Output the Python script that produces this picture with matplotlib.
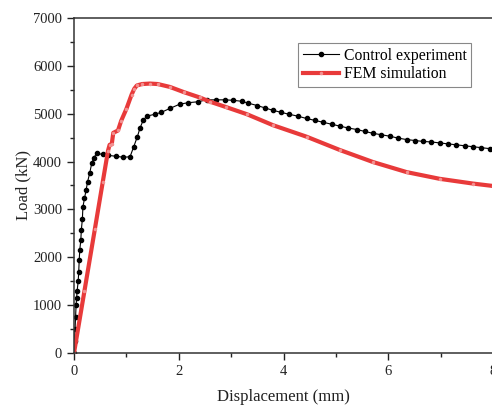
import matplotlib
matplotlib.use('Agg')
import matplotlib.pyplot as plt
from matplotlib.ticker import MultipleLocator

plt.rcParams['font.family'] = ['Liberation Serif', 'DejaVu Serif']

# control experiment (black, with markers)
exp_x = [0, 0.01, 0.02, 0.03, 0.04, 0.05, 0.06, 0.08, 0.09, 0.10, 0.11, 0.13, 0.14, 0.16,
         0.17, 0.20, 0.23, 0.26, 0.30, 0.34, 0.38, 0.43, 0.55, 0.65, 0.81, 0.94, 1.07,
         1.14, 1.21, 1.26, 1.32, 1.39, 1.55, 1.67, 1.83, 2.02, 2.18, 2.37, 2.53, 2.72,
         2.88, 3.04, 3.20, 3.33, 3.50, 3.65, 3.80, 3.95, 4.10, 4.27, 4.44, 4.60, 4.76,
         4.92, 5.08, 5.24, 5.40, 5.55, 5.71, 5.87, 6.03, 6.19, 6.35, 6.51, 6.67, 6.82,
         6.98, 7.14, 7.30, 7.46, 7.62, 7.78, 7.94, 8.0]
exp_y = [0, 250, 500, 750, 1000, 1150, 1300, 1500, 1700, 1950, 2150, 2360, 2570, 2800,
         3050, 3230, 3400, 3580, 3760, 3970, 4080, 4170, 4150, 4130, 4110, 4090, 4100,
         4310, 4520, 4700, 4860, 4950, 4990, 5030, 5110, 5200, 5230, 5250, 5290, 5290,
         5290, 5280, 5260, 5220, 5170, 5120, 5070, 5030, 4990, 4950, 4900, 4860, 4820,
         4780, 4740, 4700, 4670, 4630, 4590, 4560, 4530, 4490, 4460, 4440, 4420, 4410,
         4390, 4370, 4350, 4330, 4310, 4290, 4270, 4260]

# FEM simulation (red)
fem_x = [0, 0.2, 0.4, 0.55, 0.65, 0.68, 0.72, 0.75, 0.84, 0.9, 1.0, 1.1, 1.15, 1.2, 1.3,
         1.45, 1.6, 1.83, 2.1, 2.4, 2.6, 2.9, 3.3, 3.8, 4.44, 5.08, 5.71, 6.35, 6.98,
         7.62, 8.0]
fem_y = [0, 1300, 2600, 3580, 4230, 4350, 4360, 4600, 4650, 4850, 5100, 5400, 5520, 5590,
         5620, 5630, 5620, 5560, 5450, 5340, 5250, 5140, 4990, 4760, 4520, 4240, 3990,
         3780, 3640, 3540, 3490]

fig = plt.figure(figsize=(4.92, 4.08), dpi=100)
ax = fig.add_axes([74 / 492, 55 / 408, 419 / 492, 335 / 408])

ax.plot(exp_x, exp_y, color='black', lw=0.8, marker='o', markersize=3,
        label='Control experiment')
ax.plot(fem_x, fem_y, color='#e83a3a', lw=3, marker='o', markersize=1.5,
        markerfacecolor='#f29090', markeredgecolor='#f29090', label='FEM simulation')

ax.set_xlim(0, 8)
ax.set_ylim(0, 7000)
ax.xaxis.set_major_locator(MultipleLocator(2))
ax.xaxis.set_minor_locator(MultipleLocator(1))
ax.yaxis.set_major_locator(MultipleLocator(1000))
ax.yaxis.set_minor_locator(MultipleLocator(500))
ax.tick_params(which='major', direction='out', length=5, width=1, labelsize=10.5,
               colors='#222222')
ax.tick_params(which='minor', direction='out', length=3, width=1, colors='#222222')
for s in ax.spines.values():
    s.set_linewidth(1.1)
    s.set_color('#333333')

ax.set_xlabel('Displacement (mm)', fontsize=12, color='#222222', labelpad=8)
ax.set_ylabel('Load (kN)', fontsize=12, color='#222222', labelpad=1)

leg = ax.legend(loc='upper right', bbox_to_anchor=(0.948, 0.925), borderaxespad=0,
                fontsize=11.3, fancybox=False, edgecolor='#888888', framealpha=1,
                handlelength=2.3, handletextpad=0.3, borderpad=0.3, labelspacing=0.15)
leg.get_frame().set_linewidth(0.8)

fig.savefig('out.png', dpi=100)
